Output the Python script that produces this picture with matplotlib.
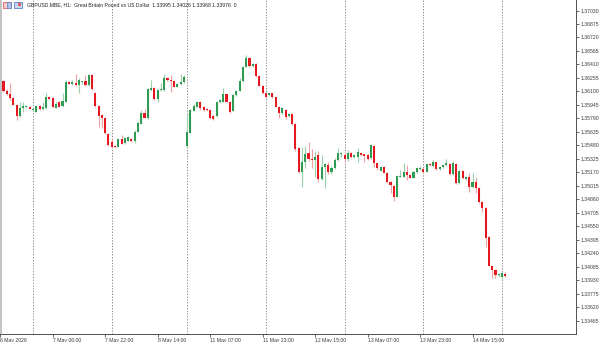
import numpy as np
import pandas as pd
import matplotlib
matplotlib.use("Agg")
import matplotlib.pyplot as plt
from matplotlib.patches import Rectangle

plt.rcParams["font.family"] = ["Liberation Sans", "DejaVu Sans"]

# -----------------------------------------------------------------------------
# Data: GBPUSD H1 candles
# -----------------------------------------------------------------------------
title_text = ("GBPUSD.MBE, H1:  Great Britain Pound vs US Dollar  "
              "1.33995 1.34026 1.33968 1.33976  0")

# trading sessions: date, first hour, number of H1 bars shown
session_days = ["2026-05-06", "2026-05-07", "2026-05-08", "2026-05-11",
                "2026-05-12", "2026-05-13", "2026-05-14", "2026-05-15"]
session_first_hour = [14, 0, 0, 0, 0, 0, 0, 0]
session_bars = [10, 24, 23, 24, 24, 24, 24, 2]

opens = [
    1.36354, 1.36224, 1.36100, 1.36067, 1.36028, 1.35944, 1.35818, 1.35906, 1.35925, 1.35917,
    1.35885, 1.35867, 1.35933, 1.35898, 1.35906, 1.36040, 1.36028, 1.35913, 1.35982, 1.35933,
    1.35982, 1.36212, 1.36182, 1.36193, 1.36174, 1.36208, 1.36224, 1.36174, 1.36289, 1.36078,
    1.35933, 1.35829, 1.35791, 1.35611, 1.35523, 1.35473, 1.35465, 1.35550, 1.35504, 1.35534,
    1.35550, 1.35534, 1.35638, 1.35726, 1.35848, 1.35791, 1.36117, 1.36136, 1.36013, 1.36117,
    1.36117, 1.36251, 1.36232, 1.36220, 1.36155, 1.36182, 1.36205, 1.35473, 1.35626, 1.35879,
    1.35925, 1.35975, 1.35925, 1.35898, 1.35887, 1.35818, 1.35818, 1.35975, 1.35982, 1.36067,
    1.35982, 1.35875, 1.36059, 1.36105, 1.36220, 1.36385, 1.36480, 1.36396, 1.36415, 1.36277,
    1.36166, 1.36078, 1.36059, 1.36078, 1.36032, 1.35925, 1.35856, 1.35887, 1.35818, 1.35841,
    1.35726, 1.35446, 1.35170, 1.35293, 1.35388, 1.35323, 1.35312, 1.35369, 1.35093, 1.35235,
    1.35254, 1.35170, 1.35224, 1.35312, 1.35385, 1.35370, 1.35320, 1.35396, 1.35342, 1.35350,
    1.35396, 1.35375, 1.35369, 1.35330, 1.35472, 1.35273, 1.35189, 1.35235, 1.35166, 1.35062,
    1.35013, 1.34890, 1.35120, 1.35120, 1.35177, 1.35139, 1.35108, 1.35170, 1.35208, 1.35204,
    1.35177, 1.35265, 1.35242, 1.35285, 1.35204, 1.35227, 1.35254, 1.35265, 1.35147, 1.35265,
    1.35043, 1.35189, 1.35089, 1.35112, 1.34997, 1.35062, 1.34986, 1.34832, 1.34764, 1.34430,
    1.34097, 1.34047, 1.33990, 1.33963, 1.33995,
]
highs = [
    1.36370, 1.36232, 1.36124, 1.36193, 1.36035, 1.35950, 1.35982, 1.35982, 1.35944, 1.35930,
    1.35900, 1.35940, 1.35944, 1.35982, 1.36078, 1.36050, 1.36035, 1.35982, 1.35990, 1.36078,
    1.36231, 1.36220, 1.36231, 1.36300, 1.36250, 1.36225, 1.36289, 1.36295, 1.36300, 1.36090,
    1.35940, 1.35840, 1.35800, 1.35620, 1.35561, 1.35480, 1.35555, 1.35599, 1.35580, 1.35585,
    1.35565, 1.35657, 1.35760, 1.35887, 1.35894, 1.36140, 1.36232, 1.36150, 1.36125, 1.36193,
    1.36297, 1.36260, 1.36289, 1.36230, 1.36200, 1.36297, 1.36290, 1.35841, 1.35895, 1.35950,
    1.35995, 1.35990, 1.35935, 1.35905, 1.35895, 1.35825, 1.35990, 1.36015, 1.36136, 1.36075,
    1.35990, 1.36065, 1.36115, 1.36251, 1.36395, 1.36519, 1.36490, 1.36425, 1.36425, 1.36285,
    1.36175, 1.36085, 1.36085, 1.36085, 1.36040, 1.35935, 1.35915, 1.35895, 1.35850, 1.35850,
    1.35735, 1.35465, 1.35465, 1.35476, 1.35522, 1.35438, 1.35415, 1.35415, 1.35369, 1.35280,
    1.35293, 1.35240, 1.35331, 1.35446, 1.35408, 1.35400, 1.35427, 1.35405, 1.35375, 1.35445,
    1.35405, 1.35385, 1.35380, 1.35490, 1.35480, 1.35280, 1.35245, 1.35245, 1.35175, 1.35070,
    1.35020, 1.35135, 1.35196, 1.35281, 1.35254, 1.35145, 1.35185, 1.35225, 1.35242, 1.35215,
    1.35281, 1.35275, 1.35311, 1.35292, 1.35245, 1.35265, 1.35319, 1.35281, 1.35300, 1.35275,
    1.35196, 1.35196, 1.35130, 1.35166, 1.35158, 1.35112, 1.34995, 1.34840, 1.34770, 1.34442,
    1.34105, 1.34055, 1.34010, 1.34028, 1.34026,
]
lows = [
    1.36215, 1.36090, 1.36055, 1.36001, 1.35940, 1.35772, 1.35810, 1.35867, 1.35913, 1.35894,
    1.35878, 1.35860, 1.35890, 1.35887, 1.35900, 1.36010, 1.35910, 1.35906, 1.35920, 1.35925,
    1.35975, 1.36180, 1.36175, 1.36165, 1.36078, 1.36190, 1.36165, 1.36165, 1.36115, 1.35925,
    1.35695, 1.35676, 1.35610, 1.35470, 1.35446, 1.35450, 1.35455, 1.35490, 1.35495, 1.35525,
    1.35520, 1.35504, 1.35630, 1.35720, 1.35790, 1.35785, 1.36110, 1.36005, 1.35975, 1.36110,
    1.36110, 1.36225, 1.36098, 1.36150, 1.36145, 1.36175, 1.36198, 1.35460, 1.35620, 1.35870,
    1.35915, 1.35887, 1.35880, 1.35875, 1.35780, 1.35770, 1.35810, 1.35965, 1.35975, 1.35975,
    1.35850, 1.35870, 1.36050, 1.36100, 1.36210, 1.36375, 1.36380, 1.36385, 1.36270, 1.36160,
    1.36070, 1.36020, 1.36050, 1.36025, 1.35915, 1.35791, 1.35845, 1.35780, 1.35800, 1.35715,
    1.35420, 1.35160, 1.35005, 1.35216, 1.35300, 1.35216, 1.35120, 1.35063, 1.35080, 1.34994,
    1.35147, 1.35155, 1.35210, 1.35300, 1.35350, 1.35293, 1.35300, 1.35335, 1.35335, 1.35292,
    1.35360, 1.35292, 1.35310, 1.35320, 1.35227, 1.35200, 1.35180, 1.35160, 1.35051, 1.34936,
    1.34840, 1.34880, 1.35110, 1.35110, 1.35081, 1.35100, 1.35100, 1.35165, 1.35200, 1.35160,
    1.35170, 1.35245, 1.35235, 1.35195, 1.35195, 1.35220, 1.35245, 1.35140, 1.35139, 1.35035,
    1.35035, 1.35095, 1.35080, 1.34947, 1.34990, 1.34928, 1.34815, 1.34718, 1.34308, 1.34090,
    1.33951, 1.33951, 1.33963, 1.33932, 1.33968,
]
closes = [
    1.36224, 1.36100, 1.36067, 1.36028, 1.35944, 1.35821, 1.35913, 1.35933, 1.35933, 1.35902,
    1.35890, 1.35933, 1.35894, 1.35917, 1.36040, 1.36017, 1.35917, 1.35956, 1.35925, 1.35994,
    1.36205, 1.36189, 1.36205, 1.36170, 1.36231, 1.36212, 1.36174, 1.36289, 1.36124, 1.35933,
    1.35821, 1.35791, 1.35618, 1.35484, 1.35465, 1.35458, 1.35550, 1.35496, 1.35561, 1.35573,
    1.35534, 1.35638, 1.35741, 1.35848, 1.35799, 1.36130, 1.36144, 1.36013, 1.36117, 1.36124,
    1.36251, 1.36232, 1.36220, 1.36155, 1.36189, 1.36212, 1.36270, 1.35638, 1.35887, 1.35936,
    1.35982, 1.35914, 1.35891, 1.35887, 1.35791, 1.35783, 1.35982, 1.36002, 1.36067, 1.35982,
    1.35868, 1.36059, 1.36105, 1.36220, 1.36385, 1.36480, 1.36392, 1.36415, 1.36277, 1.36166,
    1.36078, 1.36032, 1.36078, 1.36032, 1.35925, 1.35856, 1.35906, 1.35810, 1.35841, 1.35726,
    1.35435, 1.35170, 1.35293, 1.35377, 1.35323, 1.35312, 1.35350, 1.35093, 1.35235, 1.35262,
    1.35170, 1.35224, 1.35312, 1.35388, 1.35392, 1.35320, 1.35396, 1.35342, 1.35369, 1.35407,
    1.35369, 1.35357, 1.35323, 1.35484, 1.35273, 1.35216, 1.35235, 1.35166, 1.35062, 1.35024,
    1.34890, 1.35127, 1.35127, 1.35177, 1.35139, 1.35108, 1.35177, 1.35216, 1.35216, 1.35170,
    1.35262, 1.35254, 1.35292, 1.35204, 1.35230, 1.35254, 1.35281, 1.35147, 1.35273, 1.35043,
    1.35189, 1.35101, 1.35120, 1.34997, 1.35062, 1.34986, 1.34825, 1.34764, 1.34419, 1.34097,
    1.34047, 1.33990, 1.34001, 1.34009, 1.33976,
]

# price scale labels on the right
price_top = 1.37030
price_step = 0.00155
n_price_ticks = 24

# -----------------------------------------------------------------------------
# Style
# -----------------------------------------------------------------------------
UP = "#2f9a52"
DOWN = "#e5171f"
WICK_UP = "#9fd1ad"
WICK_DOWN = "#eea4a6"
AXIS = "#505050"
TEXT = "#3a3a3a"
FS = 3.7

# bar timestamps (weekend skipped)
times = []
for day, h0, n in zip(session_days, session_first_hour, session_bars):
    times += list(pd.date_range(f"{day} {h0:02d}:00", periods=n, freq="h"))
times = pd.DatetimeIndex(times)

o = np.array(opens)
h = np.array(highs)
l = np.array(lows)
c = np.array(closes)
x = np.arange(len(o))
up = c >= o

fig = plt.figure(figsize=(6, 3.42), dpi=100)
ax = fig.add_axes([0, 8 / 342, 576 / 600, 334 / 342])

# day separators
day_starts = [i for i in range(1, len(times)) if times[i].date() != times[i - 1].date()]
for s in day_starts:
    ax.axvline(s, color="#8a8a8a", lw=0.7, ls=(0, (1.3, 1.6)), zorder=1)

# candles
ax.vlines(x[up], l[up], h[up], color=WICK_UP, lw=0.85, zorder=2)
ax.vlines(x[~up], l[~up], h[~up], color=WICK_DOWN, lw=0.85, zorder=2)
body_lo = np.minimum(o, c)
body_h = np.maximum(np.abs(c - o), 0.00009)
ax.bar(x[up], body_h[up], bottom=body_lo[up], width=0.64, color=UP, lw=0, zorder=3)
ax.bar(x[~up], body_h[~up], bottom=body_lo[~up], width=0.64, color=DOWN, lw=0, zorder=3)

ax.set_xlim(-0.06, 175.55)
ax.set_ylim(1.33310, 1.37151)

# right price axis
price_ticks = price_top - price_step * np.arange(n_price_ticks)
ax.yaxis.tick_right()
ax.set_yticks(price_ticks)
ax.set_yticklabels([f"{p:.5f}" for p in price_ticks])
ax.tick_params(axis="y", direction="out", length=2.2, width=0.6, color=AXIS,
               labelsize=FS, pad=1.0, labelcolor=TEXT)

# time axis
tick_idx = list(range(0, len(times), 16))
tick_lab = []
for i in tick_idx:
    t = times[i]
    if i == 0:
        tick_lab.append(f"{t.day} {t:%b %Y}")
    else:
        tick_lab.append(f"{t.day} {t:%b %H:%M}")
ax.set_xticks(tick_idx)
ax.set_xticklabels(tick_lab, ha="left")
ax.tick_params(axis="x", direction="out", length=2.2, width=0.6, color=AXIS,
               labelsize=FS, pad=1.0, labelcolor=TEXT)

for side in ["top", "left"]:
    ax.spines[side].set_visible(False)
for side in ["right", "bottom"]:
    ax.spines[side].set_color(AXIS)
    ax.spines[side].set_linewidth(0.7)

# left border strip
fig.add_artist(Rectangle((0, 8 / 342), 1.5 / 600, 334 / 342, transform=fig.transFigure,
                         color="#c4c4c4", lw=0, zorder=5))

# header icons and title
fig.add_artist(Rectangle((3 / 600, 1 - 8 / 342), 8 / 600, 6 / 342, transform=fig.transFigure,
                         facecolor="#f3c9c9", edgecolor="#d64545", lw=0.5, zorder=6))
fig.add_artist(Rectangle((7 / 600, 1 - 8 / 342), 4 / 600, 6 / 342, transform=fig.transFigure,
                         facecolor="#a9c4ea", edgecolor="#4d78c0", lw=0.4, zorder=6))
fig.add_artist(Rectangle((14 / 600, 1 - 8 / 342), 8 / 600, 6 / 342, transform=fig.transFigure,
                         facecolor="#c7d8f0", edgecolor="#3d6fc0", lw=0.5, zorder=6))
fig.add_artist(Rectangle((18 / 600, 1 - 6 / 342), 3 / 600, 3 / 342, transform=fig.transFigure,
                         facecolor="#e06060", lw=0, zorder=7))
fig.text(27 / 600, 1 - 4.8 / 342, title_text, fontsize=FS, ha="left", va="center",
         color="#222222")

fig.savefig("out.png", dpi=100)
